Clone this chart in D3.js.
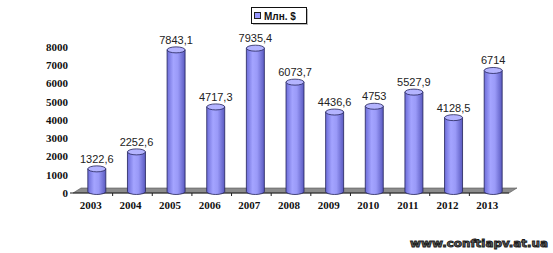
<!DOCTYPE html>
<html>
<head>
<meta charset="utf-8">
<script src="https://cdn.jsdelivr.net/npm/d3@7"></script>
<style>
  body { margin: 0; background: #fff; }
</style>
</head>
<body>
<div id="chart"></div>
<script>
// values
let years = ["2003", "2004", "2005", "2006", "2007", "2008", "2009", "2010", "2011", "2012", "2013"];
let values = [1322.6, 2252.6, 7843.1, 4717.3, 7935.4, 6073.7, 4436.6, 4753, 5527.9, 4128.5, 6714];
let yTicks = [0, 1000, 2000, 3000, 4000, 5000, 6000, 7000, 8000];
let seriesName = "Млн. $";

let width = 553, height = 253;

// 3d depth offset of the floor
let depthX = 8, depthY = -5;
let barW = 18, ellRy = 3;

let svg = d3.select("#chart").append("svg")
    .attr("width", width)
    .attr("height", height);

let x = d3.scaleBand()
    .domain(years)
    .range([73, 509]);

let y = d3.scaleLinear()
    .domain([0, 8000])
    .range([193, 47]);

let defs = svg.append("defs");
let grad = defs.append("linearGradient")
    .attr("id", "cyl")
    .attr("x1", "0%").attr("x2", "100%")
    .attr("y1", "0%").attr("y2", "0%");
grad.append("stop").attr("offset", "0%").attr("stop-color", "#6c6cd8");
grad.append("stop").attr("offset", "35%").attr("stop-color", "#a4a4ff");
grad.append("stop").attr("offset", "60%").attr("stop-color", "#9a9af8");
grad.append("stop").attr("offset", "100%").attr("stop-color", "#5a5ac0");

// floor
let x0 = x.range()[0], x1 = x.range()[1];
svg.append("path")
    .attr("d", "M" + x0 + "," + y(0) + " L" + x1 + "," + y(0) +
        " L" + (x1 + depthX) + "," + (y(0) + depthY) +
        " L" + (x0 + depthX) + "," + (y(0) + depthY) + " Z")
    .attr("fill", "#8c8c8c")
    .attr("stroke", "#555")
    .attr("stroke-width", 0.6);

svg.append("line")
    .attr("x1", x0 - 3).attr("x2", x1)
    .attr("y1", y(0)).attr("y2", y(0))
    .attr("stroke", "#222")
    .attr("stroke-width", 1);

// ticks between categories
svg.append("g")
    .selectAll("line")
    .data(years.slice(1))
    .enter()
    .append("line")
    .attr("x1", d => x(d)).attr("x2", d => x(d))
    .attr("y1", y(0)).attr("y2", y(0) + 3)
    .attr("stroke", "#222");

// y axis labels
svg.append("g")
    .selectAll("text")
    .data(yTicks)
    .enter()
    .append("text")
    .attr("x", 68)
    .attr("y", d => y(d))
    .attr("dy", "0.35em")
    .attr("text-anchor", "end")
    .attr("font-family", "Liberation Serif, serif")
    .attr("font-weight", "bold")
    .attr("font-size", 11)
    .attr("fill", "#111")
    .text(d => d);

// x axis labels
svg.append("g")
    .selectAll("text")
    .data(years)
    .enter()
    .append("text")
    .attr("x", d => x(d) + x.bandwidth() / 2 - 2)
    .attr("y", 209)
    .attr("text-anchor", "middle")
    .attr("font-family", "Liberation Serif, serif")
    .attr("font-weight", "bold")
    .attr("font-size", 11)
    .attr("fill", "#111")
    .text(d => d);

// bars as cylinders
let bottomY = y(0) + depthY / 2 + 1;
let bars = svg.append("g")
    .selectAll("g")
    .data(values)
    .enter()
    .append("g");

function cx(i) { return x(years[i]) + x.bandwidth() / 2 + depthX / 2; }

bars.append("path")
    .attr("d", (d, i) => {
        let l = cx(i) - barW / 2, r = cx(i) + barW / 2, t = y(d);
        return "M" + l + "," + t + " L" + l + "," + bottomY +
            " A" + (barW / 2) + "," + ellRy + " 0 0 0 " + r + "," + bottomY +
            " L" + r + "," + t + " Z";
    })
    .attr("fill", "url(#cyl)")
    .attr("stroke", "#23235a")
    .attr("stroke-width", 0.8);

bars.append("ellipse")
    .attr("cx", (d, i) => cx(i))
    .attr("cy", d => y(d))
    .attr("rx", barW / 2)
    .attr("ry", ellRy)
    .attr("fill", "#b4b4ff")
    .attr("stroke", "#23235a")
    .attr("stroke-width", 0.8);

bars.append("text")
    .attr("x", (d, i) => cx(i))
    .attr("y", d => y(d) - 6)
    .attr("text-anchor", "middle")
    .attr("font-family", "Liberation Sans, Arial, sans-serif")
    .attr("font-size", 11)
    .attr("fill", "#222")
    .text(d => String(d).replace(".", ","));

// legend
let legend = svg.append("g");
legend.append("rect")
    .attr("x", 253).attr("y", 9)
    .attr("width", 55).attr("height", 16)
    .attr("fill", "#bbb");
legend.append("rect")
    .attr("x", 251.5).attr("y", 7.5)
    .attr("width", 55).attr("height", 16)
    .attr("fill", "#fff")
    .attr("stroke", "#111");
legend.append("rect")
    .attr("x", 254.5).attr("y", 12.5)
    .attr("width", 6).attr("height", 6)
    .attr("fill", "#9999ff")
    .attr("stroke", "#222");
legend.append("text")
    .attr("x", 264)
    .attr("y", 19.5)
    .attr("font-family", "Liberation Sans, Arial, sans-serif")
    .attr("font-weight", "bold")
    .attr("font-size", 10)
    .attr("fill", "#111")
    .text(seriesName);

// watermark
svg.append("text")
    .attr("x", 548)
    .attr("y", 247)
    .attr("text-anchor", "end")
    .attr("font-family", "DejaVu Sans, sans-serif")
    .attr("font-weight", "bold")
    .attr("font-size", 11)
    .attr("textLength", 138)
    .attr("lengthAdjust", "spacingAndGlyphs")
    .attr("fill", "#666")
    .attr("stroke", "#1a1a1a")
    .attr("stroke-width", 0.9)
    .text("www.conftiapv.at.ua");
</script>
</body>
</html>
